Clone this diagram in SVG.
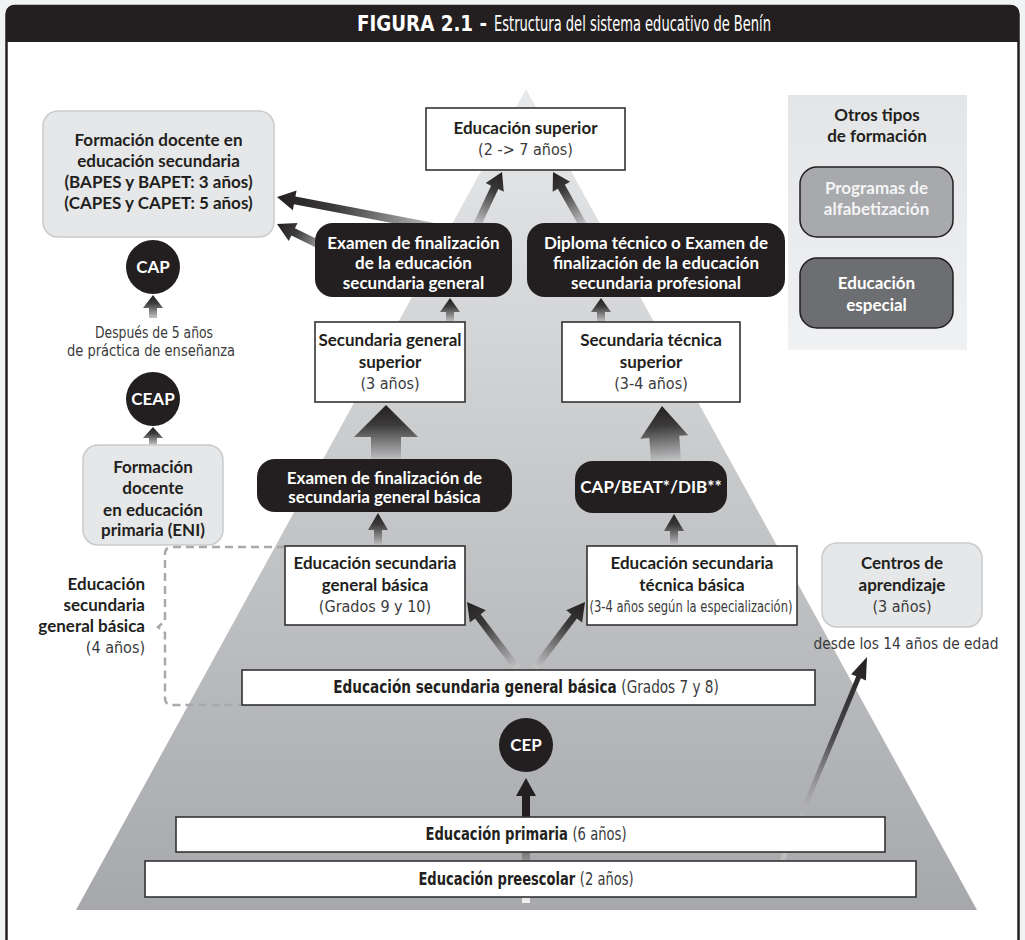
<svg xmlns="http://www.w3.org/2000/svg" width="1025" height="940" viewBox="0 0 1025 940">
<defs>
<style>
text{font-family:Lato,"Liberation Sans",sans-serif;text-anchor:middle;fill:#231f20}
.b{font-weight:700;font-size:17px}
.w{fill:#ffffff}
.r{font-family:"DejaVu Sans Condensed","Liberation Sans",sans-serif;font-weight:400;font-size:16px;fill:#3a3a3c}
.cb{font-family:"DejaVu Sans Condensed","Liberation Sans",sans-serif;font-weight:700;font-size:17px}
.cr{font-weight:400;fill:#3a3a3c}
.box{fill:#ffffff;stroke:#333333;stroke-width:1.6}
.gbox{fill:#e6e7e8;stroke:#c9cacc;stroke-width:1.5}
.blk{fill:#231f20}
.arr{fill:url(#ag)}
</style>
<linearGradient id="tri" x1="0" y1="0" x2="0" y2="1">
<stop offset="0" stop-color="#e8e9ea"/>
<stop offset="0.5" stop-color="#c6c7c9"/>
<stop offset="1" stop-color="#a6a8ab"/>
</linearGradient>
<linearGradient id="panel" x1="0" y1="0" x2="0" y2="1">
<stop offset="0" stop-color="#e4e5e6"/>
<stop offset="1" stop-color="#f0f1f2"/>
</linearGradient>
<linearGradient id="ag" x1="0" y1="0" x2="0" y2="1">
<stop offset="0" stop-color="#231f20"/>
<stop offset="0.35" stop-color="#3c3a3b"/>
<stop offset="1" stop-color="#c4c5c7"/>
</linearGradient>
<linearGradient id="ag2" x1="0" y1="0" x2="0" y2="1">
<stop offset="0" stop-color="#231f20"/>
<stop offset="0.35" stop-color="#231f20"/>
<stop offset="0.7" stop-color="#9d9fa2"/>
<stop offset="1" stop-color="#f2f2f2"/>
</linearGradient>
<linearGradient id="ag3" x1="0" y1="0" x2="0" y2="1">
<stop offset="0" stop-color="#231f20"/>
<stop offset="0.4" stop-color="#4a4a4c"/>
<stop offset="1" stop-color="#ffffff" stop-opacity="0.2"/>
</linearGradient>
</defs>

<rect x="0" y="0" width="1025" height="940" fill="#f1f2f4"/>
<rect x="6.5" y="6" width="1012" height="945" fill="#ffffff" stroke="#231f20" stroke-width="2.5" rx="8"/>
<path d="M6,42 V14 Q6,5 15,5 H1010 Q1019,5 1019,14 V42 Z" fill="#231f20"/>
<g id="title">
<text x="357" y="31" class="cb w" style="font-size:21px;text-anchor:start" textLength="130" lengthAdjust="spacingAndGlyphs">FIGURA 2.1 -</text>
<text x="494" y="31" class="cb w" style="font-size:21px;font-weight:400;text-anchor:start" textLength="277" lengthAdjust="spacingAndGlyphs">Estructura del sistema educativo de Benín</text>
</g>

<polygon points="526,89 977,910 76,910" fill="url(#tri)"/>
<rect x="788" y="95" width="179" height="255" fill="url(#panel)"/>
<path d="M285,547 H172 Q165,547 165,554 V621 L158,627 L165,633 V698 Q165,705 172,705 H280" fill="none" stroke="#a7a9ac" stroke-width="2.5" stroke-dasharray="8 5"/>

<g id="connectors">
<path class="arr" transform="translate(502,172) rotate(25.3)" d="M0,0 L10,17 L4,17 L4,58.6 L-4,58.6 L-4,17 L-10,17 Z"/>
<path class="arr" transform="translate(553,172) rotate(-29.5)" d="M0,0 L10,17 L4,17 L4,60.9 L-4,60.9 L-4,17 L-10,17 Z"/>
<path class="arr" transform="translate(277,197) rotate(-79.2)" d="M0,0 L10,18 L4,18 L4,166 L-4,166 L-4,18 L-10,18 Z"/>
<path class="arr" transform="translate(277,224) rotate(-63.9)" d="M0,0 L10,18 L4,18 L4,59 L-4,59 L-4,18 L-10,18 Z"/>
<path class="arr" transform="translate(153,295)" d="M0,0 L10,13 L4,13 L4,23 L-4,23 L-4,13 L-10,13 Z"/>
<path class="arr" transform="translate(153,427)" d="M0,0 L10,11 L4,11 L4,18 L-4,18 L-4,11 L-10,11 Z"/>
<path class="arr" transform="translate(450,298)" d="M0,0 L10,14 L4,14 L4,24 L-4,24 L-4,14 L-10,14 Z"/>
<path class="arr" transform="translate(601,298)" d="M0,0 L10,14 L4,14 L4,24 L-4,24 L-4,14 L-10,14 Z"/>
<path class="arr" transform="translate(386,405)" d="M0,0 L32,32 L15,32 L15,56 L-15,56 L-15,32 L-32,32 Z"/>
<path class="arr" transform="translate(662,406) rotate(-4.2)" d="M0,0 L24,31 L15,31 L15,56 L-15,56 L-15,31 L-24,31 Z"/>
<path class="arr" transform="translate(378,513)" d="M0,0 L10,17 L4,17 L4,33 L-4,33 L-4,17 L-10,17 Z"/>
<path class="arr" transform="translate(674,514)" d="M0,0 L10,17 L4,17 L4,32 L-4,32 L-4,17 L-10,17 Z"/>
<path class="arr" transform="translate(467,602) rotate(-37.1)" d="M0,0 L10,18 L3.5,18 L3.5,83 L-3.5,83 L-3.5,18 L-10,18 Z"/>
<path class="arr" transform="translate(585,602) rotate(37.1)" d="M0,0 L10,18 L3.5,18 L3.5,83 L-3.5,83 L-3.5,18 L-10,18 Z"/>
<path fill="url(#ag2)" transform="translate(526,778)" d="M0,0 L10,18 L4,18 L4,125 L-4,125 L-4,18 L-10,18 Z"/>
<path fill="url(#ag3)" transform="translate(867,657) rotate(22.6)" d="M0,0 L8,22 L2.5,22 L2.5,221 L-2.5,221 L-2.5,22 L-8,22 Z"/>
</g>

<g id="n-superior">
<rect class="box" x="426" y="108" width="199" height="62"/>
<text class="b" x="525.5" y="134">Educación superior</text>
<text class="r" x="525.5" y="155">(2 -&gt; 7 años)</text>
</g>

<g id="n-formacion-sec">
<rect class="gbox" x="43" y="111" width="231" height="126" rx="15"/>
<text class="b" x="158.5" y="146">Formación docente en</text>
<text class="b" x="158.5" y="167">educación secundaria</text>
<text class="b" x="158.5" y="188">(BAPES y BAPET: 3 años)</text>
<text class="b" x="158.5" y="209">(CAPES y CAPET: 5 años)</text>
</g>

<g id="n-exam-gen">
<rect class="blk" x="315" y="223" width="197" height="74" rx="18"/>
<text class="b w" x="413.5" y="249">Examen de finalización</text>
<text class="b w" x="413.5" y="269">de la educación</text>
<text class="b w" x="413.5" y="289">secundaria general</text>
</g>

<g id="n-exam-tec">
<rect class="blk" x="527" y="223" width="258" height="74" rx="18"/>
<text class="b w" x="656" y="249">Diploma técnico o Examen de</text>
<text class="b w" x="656" y="269">finalización de la educación</text>
<text class="b w" x="656" y="289">secundaria profesional</text>
</g>

<g id="n-otros">
<text class="b" x="877" y="121">Otros tipos</text>
<text class="b" x="877" y="142">de formación</text>
</g>

<g id="n-alfabetizacion">
<rect x="800" y="167" width="153" height="70" rx="17" fill="#a7a9ac" stroke="#231f20" stroke-width="1.5"/>
<text class="b" x="876.5" y="194" style="fill:#f4f4f5">Programas de</text>
<text class="b" x="876.5" y="215" style="fill:#f4f4f5">alfabetización</text>
</g>

<g id="n-especial">
<rect x="800" y="258" width="153" height="70" rx="17" fill="#6d6e71" stroke="#231f20" stroke-width="1.5"/>
<text class="b w" x="876.5" y="289">Educación</text>
<text class="b w" x="876.5" y="311">especial</text>
</g>

<g id="n-cap">
<circle cx="153" cy="267" r="27" class="blk"/>
<text class="b w" x="153" y="273">CAP</text>
</g>

<g id="n-despues">
<text class="r" x="154" y="338" textLength="118" lengthAdjust="spacingAndGlyphs">Después de 5 años</text>
<text class="r" x="151" y="356" textLength="168" lengthAdjust="spacingAndGlyphs">de práctica de enseñanza</text>
</g>

<g id="n-ceap">
<circle cx="153" cy="399" r="27" class="blk"/>
<text class="b w" x="153" y="405">CEAP</text>
</g>

<g id="n-eni">
<rect class="gbox" x="83" y="445" width="140" height="100" rx="15"/>
<text class="b" x="153" y="473">Formación</text>
<text class="b" x="153" y="494">docente</text>
<text class="b" x="153" y="516">en educación</text>
<text class="b" x="153" y="536">primaria (ENI)</text>
</g>

<g id="n-sec-gen-sup">
<rect class="box" x="315" y="322" width="150" height="80"/>
<text class="b" x="390" y="346">Secundaria general</text>
<text class="b" x="390" y="368">superior</text>
<text class="r" x="390" y="389">(3 años)</text>
</g>

<g id="n-sec-tec-sup">
<rect class="box" x="562" y="322" width="178" height="80"/>
<text class="b" x="651" y="346">Secundaria técnica</text>
<text class="b" x="651" y="368">superior</text>
<text class="r" x="651" y="389">(3-4 años)</text>
</g>

<g id="n-exam-basica">
<rect class="blk" x="257" y="459" width="255" height="53" rx="18"/>
<text class="b w" x="384.5" y="484">Examen de finalización de</text>
<text class="b w" x="384.5" y="503">secundaria general básica</text>
</g>

<g id="n-capbeat">
<rect class="blk" x="575" y="461" width="152" height="52" rx="18"/>
<text class="b w" x="651" y="493">CAP/BEAT*/DIB**</text>
</g>

<g id="n-sec-gen-bas">
<rect class="box" x="285" y="546" width="180" height="79"/>
<text class="b" x="375" y="569">Educación secundaria</text>
<text class="b" x="375" y="591">general básica</text>
<text class="r" x="375" y="612">(Grados 9 y 10)</text>
</g>

<g id="n-sec-tec-bas">
<rect class="box" x="587" y="546" width="210" height="79"/>
<text class="b" x="692" y="569">Educación secundaria</text>
<text class="b" x="692" y="591">técnica básica</text>
<text class="r" x="691" y="612" textLength="203" lengthAdjust="spacingAndGlyphs">(3-4 años según la especialización)</text>
</g>

<g id="n-centros">
<rect class="gbox" x="822" y="543" width="160" height="84" rx="15"/>
<text class="b" x="902" y="569">Centros de</text>
<text class="b" x="902" y="591">aprendizaje</text>
<text class="r" x="902" y="612">(3 años)</text>
<text class="r" x="906" y="649" textLength="185" lengthAdjust="spacingAndGlyphs">desde los 14 años de edad</text>
</g>

<g id="n-label-basica">
<text class="b" x="145" y="590" style="text-anchor:end">Educación</text>
<text class="b" x="145" y="611" style="text-anchor:end">secundaria</text>
<text class="b" x="145" y="632" style="text-anchor:end">general básica</text>
<text class="r" x="145" y="653" style="text-anchor:end">(4 años)</text>
</g>

<g id="n-grados78">
<rect class="box" x="242" y="670" width="573" height="35"/>
<text class="cb" transform="translate(526,693) scale(0.89,1)" x="0" y="0">Educación secundaria general básica <tspan class="cr">(Grados 7 y 8)</tspan></text>
</g>

<g id="n-cep">
<circle cx="526" cy="745" r="27" class="blk"/>
<text class="b w" x="526" y="751">CEP</text>
</g>

<g id="n-primaria">
<rect class="box" x="176" y="817" width="709" height="35"/>
<text class="cb" transform="translate(526,840) scale(0.86,1)" x="0" y="0">Educación primaria <tspan class="cr">(6 años)</tspan></text>
</g>

<g id="n-preescolar">
<rect class="box" x="145" y="861" width="771" height="36"/>
<text class="cb" transform="translate(526,885) scale(0.855,1)" x="0" y="0">Educación preescolar <tspan class="cr">(2 años)</tspan></text>
</g>
</svg>
